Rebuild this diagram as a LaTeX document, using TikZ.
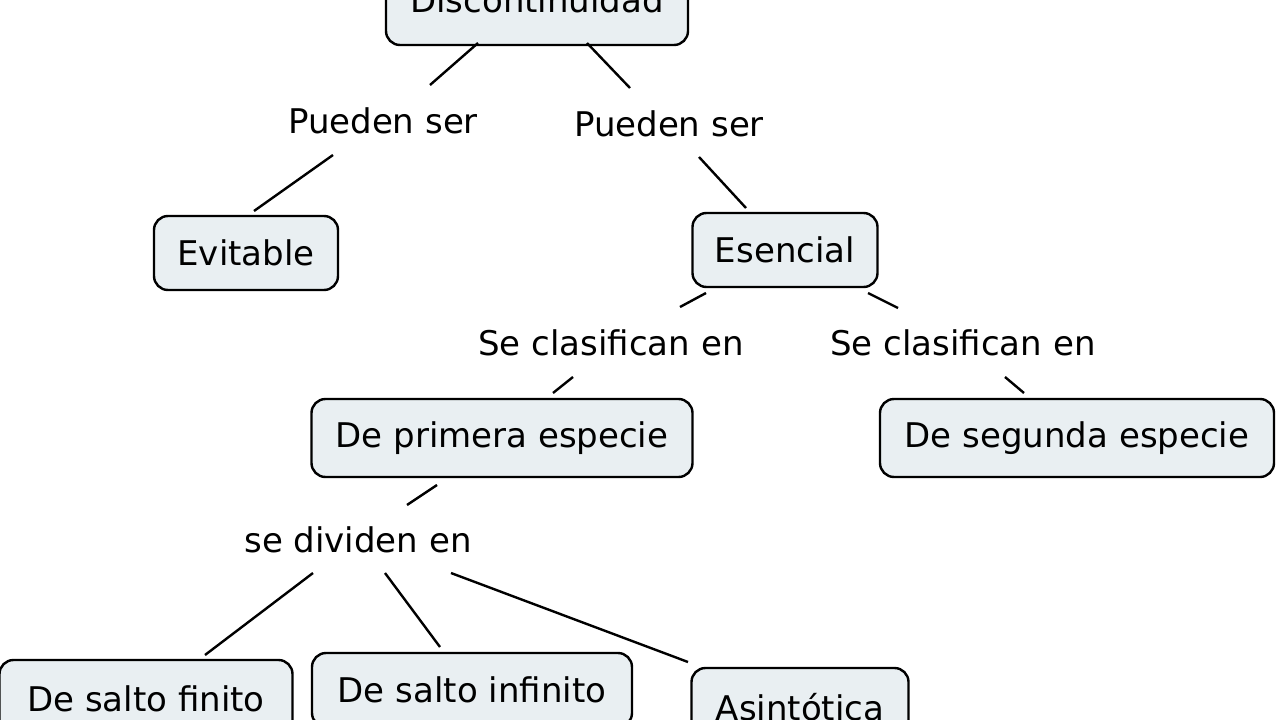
\documentclass[tikz,border=0pt]{standalone}
\usepackage{fontspec}
\setmainfont{DejaVu Sans}
\begin{document}
\begin{tikzpicture}[x=1pt,y=-1pt,
  box/.style={draw=black, line width=2.4pt, rounded corners=14pt, fill=boxfill, minimum height=74pt, inner xsep=0pt, font=\fontsize{34}{36}\selectfont},
  lab/.style={font=\fontsize{34}{36}\selectfont, inner sep=0pt},
  ln/.style={line width=2.4pt}]
\definecolor{boxfill}{HTML}{E9EFF2}
\useasboundingbox (0,0) rectangle (1280,720);
\node[box, minimum width=302pt, minimum height=90pt] (disc) at (537,0) {\raisebox{-15pt}{Discontinuidad}};
\node[box, minimum width=184pt] (evit) at (246,253) {Evitable};
\node[box, minimum width=185pt] (esen) at (785,250) {Esencial};
\node[box, minimum width=381pt, minimum height=78pt] (prim) at (502,438) {De primera especie};
\node[box, minimum width=394pt, minimum height=78pt] (seg) at (1077,438) {De segunda especie};
\node[box, minimum width=293pt, minimum height=78pt] (fin) at (146,699) {De salto finito};
\node[box, minimum width=320pt, minimum height=74pt] (inf) at (472,690) {De salto infinito};
\node[box, minimum width=217pt, minimum height=78pt] (asin) at (800,707) {Asintótica};
\node[lab] (l1) at (383,121) {Pueden ser};
\node[lab] (l2) at (669,124) {Pueden ser};
\node[lab] (l3) at (611,343) {Se clasifican en};
\node[lab] (l4) at (963,343) {Se clasifican en};
\node[lab] (l5) at (358,540) {se dividen en};
\draw[ln] ([shift={(-59,43)}]disc.center) -- ([shift={(47,-36)}]l1.center);
\draw[ln] ([shift={(50,43)}]disc.center) -- ([shift={(-39,-36)}]l2.center);
\draw[ln] ([shift={(-50,34)}]l1.center) -- ([shift={(8,-42)}]evit.center);
\draw[ln] ([shift={(30,33)}]l2.center) -- ([shift={(-39,-42)}]esen.center);
\draw[ln] ([shift={(-79,43)}]esen.center) -- ([shift={(69,-36)}]l3.center);
\draw[ln] ([shift={(83,43)}]esen.center) -- ([shift={(-65,-35)}]l4.center);
\draw[ln] ([shift={(-38,34)}]l3.center) -- ([shift={(51,-45)}]prim.center);
\draw[ln] ([shift={(42,34)}]l4.center) -- ([shift={(-53,-45)}]seg.center);
\draw[ln] ([shift={(-65,47)}]prim.center) -- ([shift={(49,-35)}]l5.center);
\draw[ln] ([shift={(-45,33)}]l5.center) -- ([shift={(59,-44)}]fin.center);
\draw[ln] ([shift={(27,33)}]l5.center) -- ([shift={(-32,-43)}]inf.center);
\draw[ln] ([shift={(93,33)}]l5.center) -- ([shift={(-112,-45)}]asin.center);
\end{tikzpicture}
\end{document}
